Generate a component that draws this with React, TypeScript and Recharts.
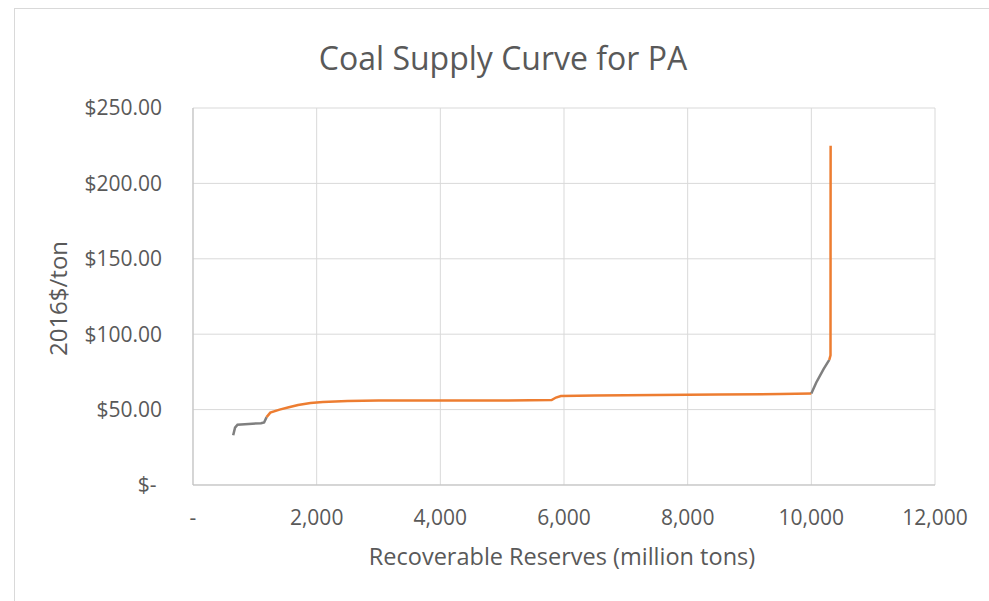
import { LineChart, Line, XAxis, YAxis, CartesianGrid, Label } from 'recharts'

// Supply curve pieces: reserves in million tons, price in 2016$/ton
const startReserves = [650, 680, 720, 900, 1100, 1150, 1190]
const startPrices = [33, 38, 40, 40.5, 41, 41.5, 45]

const plateauReserves = [
  1190, 1250, 1400, 1550, 1700, 1900, 2100, 2500, 3000, 4000, 5000, 5800, 5870, 5950,
  6500, 7500, 8500, 9500, 10000,
]
const plateauPrices = [
  45, 48, 50, 51.5, 53, 54.3, 55, 55.7, 56, 56, 56, 56.3, 58, 59, 59.3, 59.7, 60, 60.3,
  60.6,
]

const rampReserves = [10000, 10080, 10200, 10290]
const rampPrices = [60.6, 68, 77, 83]

const spikeReserves = [10290, 10310, 10312]
const spikePrices = [83, 86, 225]

const xTicks = [0, 2000, 4000, 6000, 8000, 10000, 12000]
const yTicks = [0, 50, 100, 150, 200, 250]

const ORANGE = '#ED7D31'
const GRAY = '#7f7f7f'
const TEXT = '#595959'
const FONT = '"Open Sans", sans-serif'

function zip(xs: number[], ys: number[]) {
  return xs.map((x, i) => ({ x, y: ys[i] }))
}

const segments = [
  { key: 'start', data: zip(startReserves, startPrices), color: GRAY },
  { key: 'plateau', data: zip(plateauReserves, plateauPrices), color: ORANGE },
  { key: 'ramp', data: zip(rampReserves, rampPrices), color: GRAY },
  { key: 'spike', data: zip(spikeReserves, spikePrices), color: ORANGE },
]

function formatReserves(v: number) {
  return v === 0 ? '-' : v.toLocaleString('en-US')
}

function formatPrice(v: number) {
  return v === 0 ? '$-\u00a0' : `$${v.toFixed(2)}`
}

export default function App() {
  return (
    <div
      style={{
        position: 'absolute',
        left: 0,
        top: 0,
        width: 989,
        height: 601,
        overflow: 'hidden',
        background: '#fff',
        fontFamily: FONT,
      }}
    >
      <div
        style={{
          position: 'absolute',
          left: 14,
          top: 8,
          width: 1000,
          height: 620,
          border: '1px solid #d9d9d9',
        }}
      />
      <div
        style={{
          position: 'absolute',
          left: 0,
          width: 1006,
          top: 36,
          textAlign: 'center',
          fontSize: 32,
          color: TEXT,
          lineHeight: '44px',
        }}
      >
        Coal Supply Curve for PA
      </div>
      <div style={{ position: 'absolute', left: 0, top: 0 }}>
        <LineChart
          width={989}
          height={601}
          margin={{ top: 108, right: 54, bottom: 0, left: 0 }}
        >
          <CartesianGrid stroke="#d9d9d9" strokeWidth={1} />
          <XAxis
            type="number"
            dataKey="x"
            domain={[0, 12000]}
            ticks={xTicks}
            tickFormatter={formatReserves}
            height={116}
            tickSize={0}
            tickMargin={25}
            axisLine={{ stroke: '#bfbfbf' }}
            tick={{ fill: TEXT, fontSize: 21, fontFamily: FONT }}
          >
            <Label
              value="Recoverable Reserves (million tons)"
              position="center"
              dx={-2}
              dy={14}
              fill={TEXT}
              fontSize={23.5}
              fontFamily={FONT}
            />
          </XAxis>
          <YAxis
            type="number"
            dataKey="y"
            domain={[0, 250]}
            ticks={yTicks}
            tickFormatter={formatPrice}
            width={193}
            tickSize={0}
            tickMargin={31}
            axisLine={{ stroke: '#bfbfbf' }}
            tick={{ fill: TEXT, fontSize: 21, fontFamily: FONT }}
          >
            <Label
              value="2016$/ton"
              angle={-90}
              position="center"
              dx={-38}
              dy={2}
              fill={TEXT}
              fontSize={24}
              fontFamily={FONT}
            />
          </YAxis>
          {segments.map((s) => (
            <Line
              key={s.key}
              data={s.data}
              dataKey="y"
              type="linear"
              stroke={s.color}
              strokeWidth={2.5}
              dot={false}
              activeDot={false}
              isAnimationActive={false}
            />
          ))}
        </LineChart>
      </div>
    </div>
  )
}
